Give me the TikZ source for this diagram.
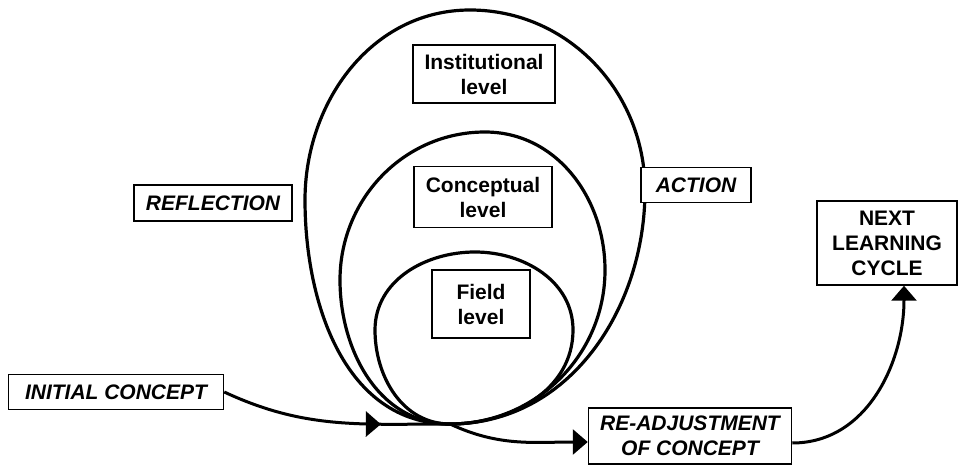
\documentclass[tikz,border=0pt]{standalone}
\usepackage{fontspec}
\setmainfont{Liberation Sans}
\usepackage{tikz}
\usetikzlibrary{arrows.meta}
\usetikzlibrary{decorations.markings}

\begin{document}
\begin{tikzpicture}
	[x=1pt,y=1pt,every node/.style={draw,line width=1.5pt,fill=white,align=center,inner sep=0pt,font=\fontsize{21}{25}\selectfont\bfseries},
	tagbox/.style={font=\fontsize{21}{25}\selectfont\bfseries\itshape},
	ring/.style={line width=3.2pt},
	wire/.style={line width=3pt},
	bigtip/.style={-{Triangle[length=15pt,width=25pt]}}]
	\useasboundingbox (0,0) rectangle (960,466);
	\coordinate (p) at (450,42);
	
	% the three levels
	\draw[ring] (p) to[out=0,in=-90] (573,136) to[out=90,in=0] (475,214) to[out=180,in=90] (375,136) to[out=-90,in=180] (p);
	\draw[ring] (p) to[out=0,in=-90] (605,196) to[out=90,in=0] (485,334) to[out=180,in=90] (340,186) to[out=-90,in=180] (p);
	\draw[ring] (p) to[out=0,in=-90] (645,276) to[out=90,in=0] (470,456) to[out=180,in=90] (305,266) to[out=-90,in=180] (p);
	
	\node[minimum width=142pt,minimum height=58pt] (inst) at (484,392) {Institutional\\level};
	\node[minimum width=138pt,minimum height=61pt] (conc) at (483,269) {Conceptual\\level};
	\node[minimum width=98pt,minimum height=68pt] (field) at (481,162) {Field\\level};
	
	\node[tagbox,minimum width=158pt,minimum height=36pt] (refl) at (213,263) {REFLECTION};
	\node[tagbox,minimum width=110pt,minimum height=35pt] (act) at (696,281) {ACTION};
	\node[tagbox,minimum width=215pt,minimum height=35pt] (ini) at (116,74) {INITIAL CONCEPT};
	\node[tagbox,minimum width=203pt,minimum height=56pt] (re) at (690,30) {RE-ADJUSTMENT\\OF CONCEPT};
	\node[minimum width=140pt,minimum height=84pt] (nx) at (887,223) {NEXT\\LEARNING\\CYCLE};
	
	\draw[wire,postaction={decorate},decoration={markings,mark=at position 0.7 with {\arrow{Triangle[length=15pt,width=25pt]}}}]
		(ini.east) to[out=-25,in=180] (p);
	\draw[wire,bigtip] (p) to[out=-25,in=180] ([yshift=-6pt]re.west);
	\draw[wire,bigtip] ([yshift=-7pt]re.east) to[out=0,in=-90] ([xshift=17pt]nx.south);
	\end{tikzpicture}
\end{document}
